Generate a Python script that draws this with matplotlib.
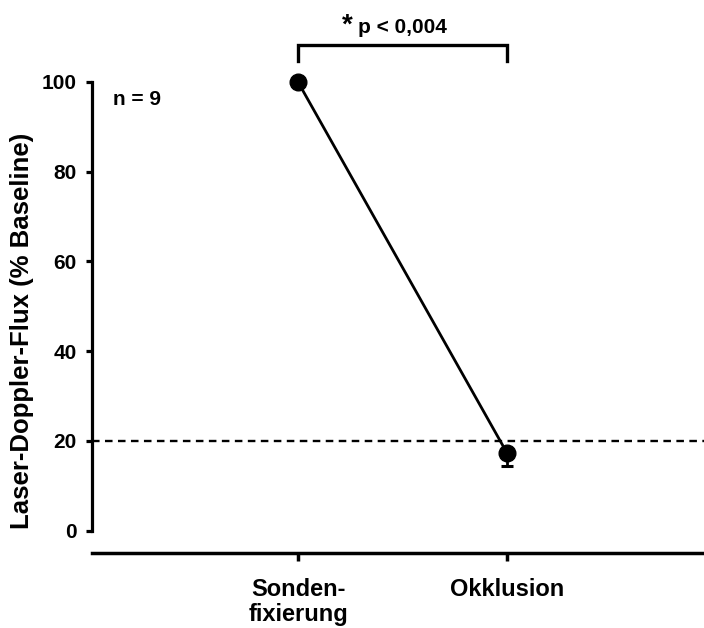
import matplotlib
matplotlib.use("Agg")
import matplotlib.pyplot as plt

plt.rcParams['font.family'] = ['Liberation Sans', 'DejaVu Sans']
plt.rcParams['font.weight'] = 'bold'

categories = ["Sonden-\nfixierung", "Okklusion"]
means = [100.0, 17.3]
err_low = [0.0, 2.9]
err_high = [0.0, 0.0]
yticks = [0, 20, 40, 60, 80, 100]
threshold = 20
n_label = "n = 9"
sig_label = "p < 0,004"
ylabel = "Laser-Doppler-Flux (% Baseline)"

W, H = 704, 628
fig = plt.figure(figsize=(W / 100, H / 100), dpi=100)
left, right, top, bottom = 92, 704, 82, 530.5
ax = fig.add_axes([left / W, 1 - bottom / H, (right - left) / W, (bottom - top) / H])

x = list(range(len(categories)))
ax.set_xlim(-0.986, 1.943)
ax.set_ylim(0, 100)

ax.axhline(threshold, color='black', lw=1.7, ls=(0, (3.2, 2.3)), zorder=1)
ax.errorbar(x, means, yerr=[err_low, err_high], fmt='none', ecolor='black',
            elinewidth=2.0, capsize=4.6, capthick=2.2, zorder=2, clip_on=False)
ax.plot(x, means, color='black', lw=2.0, marker='o', markersize=12,
        zorder=3, clip_on=False)

for s in ['top', 'right']:
    ax.spines[s].set_visible(False)
ax.spines['left'].set_linewidth(2.3)
ax.spines['bottom'].set_linewidth(2.5)
ax.spines['bottom'].set_position(('outward', 16))

ax.set_yticks(yticks)
ax.set_xticks(x)
ax.set_xticklabels(categories, fontsize=17, fontweight='bold', linespacing=1.15)
ax.tick_params(axis='y', direction='out', length=4, width=2.3, pad=7, labelsize=15)
ax.tick_params(axis='x', direction='out', length=6, width=2.5, pad=12)
for lbl in ax.get_yticklabels():
    lbl.set_fontweight('bold')

fig.text(22 / W, 1 - 330.5 / H, ylabel, rotation=90, ha='center', va='center',
         fontsize=18.5, fontweight='bold')

ax.text(-0.885, 96, n_label, ha='left', va='center', fontsize=15, fontweight='bold')

# significance bracket
ax.plot([x[0], x[0], x[1], x[1]], [104.7, 108.3, 108.3, 104.7], color='black',
        lw=2.4, clip_on=False, solid_joinstyle='miter')
ax.text(0.262, 110.9, "*", ha='right', va='baseline', fontsize=20, fontweight='bold')
ax.text(0.287, 110.9, sig_label, ha='left', va='baseline', fontsize=15, fontweight='bold')

fig.savefig("out.png", dpi=100)
